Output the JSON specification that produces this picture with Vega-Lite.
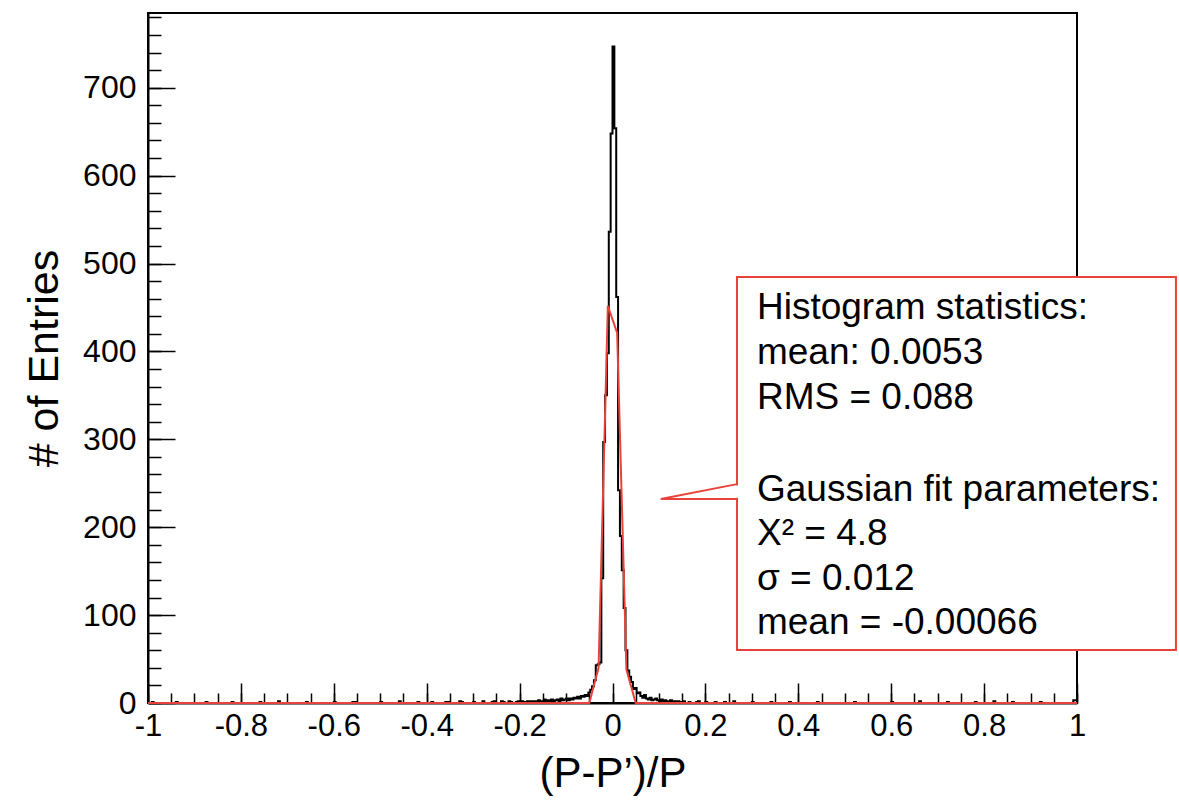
{
  "$schema": "https://vega.github.io/schema/vega-lite/v6.json",
  "width": 929,
  "height": 690,
  "autosize": {"type": "none"},
  "padding": {"left": 148, "top": 13, "right": 102, "bottom": 103},
  "background": "white",
  "config": {
    "view": {"stroke": "black", "strokeWidth": 2},
    "font": "Liberation Sans",
    "axis": {"grid": false}
  },
  "datasets": {
    "hist": [
      {"x": -1, "n": 0}, {"x": -0.992, "n": 1}, {"x": -0.988, "n": 0},
      {"x": -0.94, "n": 1}, {"x": -0.936, "n": 0}, {"x": -0.876, "n": 1}, {"x": -0.872, "n": 0},
      {"x": -0.82, "n": 1}, {"x": -0.816, "n": 0}, {"x": -0.76, "n": 1}, {"x": -0.756, "n": 0},
      {"x": -0.72, "n": 2}, {"x": -0.716, "n": 0}, {"x": -0.66, "n": 1}, {"x": -0.656, "n": 0},
      {"x": -0.6, "n": 1}, {"x": -0.596, "n": 0}, {"x": -0.56, "n": 1}, {"x": -0.552, "n": 0},
      {"x": -0.5, "n": 1}, {"x": -0.496, "n": 0}, {"x": -0.46, "n": 2}, {"x": -0.456, "n": 0},
      {"x": -0.42, "n": 1}, {"x": -0.416, "n": 0}, {"x": -0.39, "n": 1}, {"x": -0.386, "n": 0},
      {"x": -0.36, "n": 1}, {"x": -0.352, "n": 0}, {"x": -0.33, "n": 2}, {"x": -0.326, "n": 1},
      {"x": -0.322, "n": 0}, {"x": -0.3, "n": 1}, {"x": -0.296, "n": 0}, {"x": -0.28, "n": 2},
      {"x": -0.276, "n": 0}, {"x": -0.26, "n": 1}, {"x": -0.256, "n": 2}, {"x": -0.252, "n": 0},
      {"x": -0.24, "n": 2}, {"x": -0.236, "n": 1}, {"x": -0.232, "n": 0}, {"x": -0.224, "n": 2},
      {"x": -0.22, "n": 1}, {"x": -0.216, "n": 0}, {"x": -0.208, "n": 1}, {"x": -0.204, "n": 2},
      {"x": -0.2, "n": 1}, {"x": -0.196, "n": 2}, {"x": -0.192, "n": 1}, {"x": -0.188, "n": 0},
      {"x": -0.184, "n": 2}, {"x": -0.18, "n": 1}, {"x": -0.176, "n": 2}, {"x": -0.172, "n": 0},
      {"x": -0.168, "n": 2}, {"x": -0.164, "n": 1}, {"x": -0.16, "n": 3}, {"x": -0.156, "n": 1},
      {"x": -0.152, "n": 2}, {"x": -0.148, "n": 4}, {"x": -0.144, "n": 2}, {"x": -0.14, "n": 3},
      {"x": -0.136, "n": 1}, {"x": -0.132, "n": 4}, {"x": -0.128, "n": 2}, {"x": -0.124, "n": 3},
      {"x": -0.12, "n": 4}, {"x": -0.116, "n": 2}, {"x": -0.112, "n": 5}, {"x": -0.108, "n": 3},
      {"x": -0.104, "n": 4}, {"x": -0.1, "n": 5}, {"x": -0.096, "n": 3}, {"x": -0.092, "n": 5},
      {"x": -0.088, "n": 4}, {"x": -0.084, "n": 6}, {"x": -0.08, "n": 5}, {"x": -0.076, "n": 7},
      {"x": -0.072, "n": 5}, {"x": -0.068, "n": 8}, {"x": -0.064, "n": 7}, {"x": -0.06, "n": 9},
      {"x": -0.056, "n": 8}, {"x": -0.052, "n": 12}, {"x": -0.048, "n": 15}, {"x": -0.044, "n": 19},
      {"x": -0.04, "n": 26}, {"x": -0.036, "n": 43}, {"x": -0.032, "n": 44}, {"x": -0.028, "n": 46},
      {"x": -0.024, "n": 142}, {"x": -0.02, "n": 297}, {"x": -0.016, "n": 350}, {"x": -0.012, "n": 398},
      {"x": -0.008, "n": 536}, {"x": -0.004, "n": 648}, {"x": 0, "n": 747}, {"x": 0.004, "n": 654},
      {"x": 0.008, "n": 462}, {"x": 0.012, "n": 242}, {"x": 0.016, "n": 190}, {"x": 0.02, "n": 151},
      {"x": 0.024, "n": 108}, {"x": 0.028, "n": 60}, {"x": 0.032, "n": 37}, {"x": 0.036, "n": 30},
      {"x": 0.04, "n": 24}, {"x": 0.044, "n": 16}, {"x": 0.048, "n": 17}, {"x": 0.052, "n": 11},
      {"x": 0.056, "n": 12}, {"x": 0.06, "n": 8}, {"x": 0.064, "n": 6}, {"x": 0.068, "n": 9},
      {"x": 0.072, "n": 5}, {"x": 0.076, "n": 4}, {"x": 0.08, "n": 6}, {"x": 0.084, "n": 3},
      {"x": 0.088, "n": 4}, {"x": 0.092, "n": 5}, {"x": 0.096, "n": 3}, {"x": 0.1, "n": 2},
      {"x": 0.104, "n": 4}, {"x": 0.108, "n": 2}, {"x": 0.112, "n": 3}, {"x": 0.116, "n": 2},
      {"x": 0.12, "n": 1}, {"x": 0.124, "n": 3}, {"x": 0.128, "n": 1}, {"x": 0.132, "n": 2},
      {"x": 0.136, "n": 1}, {"x": 0.14, "n": 2}, {"x": 0.144, "n": 0}, {"x": 0.148, "n": 1},
      {"x": 0.152, "n": 2}, {"x": 0.156, "n": 0}, {"x": 0.164, "n": 1}, {"x": 0.168, "n": 0},
      {"x": 0.18, "n": 1}, {"x": 0.184, "n": 2}, {"x": 0.188, "n": 0}, {"x": 0.2, "n": 1},
      {"x": 0.204, "n": 0}, {"x": 0.22, "n": 1}, {"x": 0.224, "n": 0}, {"x": 0.24, "n": 1},
      {"x": 0.244, "n": 0}, {"x": 0.26, "n": 2}, {"x": 0.264, "n": 0}, {"x": 0.3, "n": 1},
      {"x": 0.304, "n": 0}, {"x": 0.34, "n": 1}, {"x": 0.344, "n": 0}, {"x": 0.38, "n": 1},
      {"x": 0.384, "n": 0}, {"x": 0.44, "n": 1}, {"x": 0.444, "n": 0}, {"x": 0.52, "n": 1},
      {"x": 0.524, "n": 0}, {"x": 0.6, "n": 1}, {"x": 0.604, "n": 0}, {"x": 0.66, "n": 2},
      {"x": 0.664, "n": 0}, {"x": 0.72, "n": 1}, {"x": 0.724, "n": 0}, {"x": 0.78, "n": 1},
      {"x": 0.784, "n": 0}, {"x": 0.82, "n": 2}, {"x": 0.824, "n": 0}, {"x": 0.86, "n": 1},
      {"x": 0.864, "n": 0}, {"x": 0.92, "n": 1}, {"x": 0.924, "n": 0}, {"x": 0.992, "n": 3},
      {"x": 1, "n": 0}
    ],
    "fit": [
      {"x": -1, "f": 0}, {"x": -0.05, "f": 0}, {"x": -0.03, "f": 40}, {"x": -0.01, "f": 452},
      {"x": 0.01, "f": 421}, {"x": 0.03, "f": 38}, {"x": 0.05, "f": 0}, {"x": 1, "f": 0}
    ],
    "one": [{}]
  },
  "resolve": {"axis": {"x": "independent", "y": "independent"}},
  "layer": [
    {
      "data": {"name": "hist"},
      "mark": {"type": "line", "interpolate": "step-after", "color": "black", "strokeWidth": 2},
      "encoding": {
        "x": {
          "field": "x", "type": "quantitative",
          "scale": {"domain": [-1, 1], "nice": false, "zero": false},
          "axis": {
            "orient": "bottom",
            "values": [-1, -0.8, -0.6, -0.4, -0.2, 0, 0.2, 0.4, 0.6, 0.8, 1],
            "labelExpr": "toString(round(datum.value*10)/10)",
            "tickSize": -20, "tickWidth": 1.5, "tickColor": "black",
            "domainColor": "black", "domainWidth": 2,
            "labelFont": "Liberation Sans", "labelFontSize": 31, "labelColor": "black",
            "labelPadding": 28, "labelFlush": false, "labelOverlap": false,
            "title": "(P-P’)/P", "titleFont": "Liberation Sans", "titleFontSize": 42,
            "titleFontWeight": "normal", "titleColor": "black", "titlePadding": 12
          }
        },
        "y": {
          "field": "n", "type": "quantitative",
          "scale": {"domain": [0, 785], "nice": false, "zero": true},
          "axis": {
            "orient": "left",
            "values": [0, 100, 200, 300, 400, 500, 600, 700],
            "tickSize": -27, "tickWidth": 1.5, "tickColor": "black",
            "domainColor": "black", "domainWidth": 2,
            "labelFont": "Liberation Sans", "labelFontSize": 32, "labelColor": "black",
            "labelPadding": 39, "labelFlush": false, "labelOverlap": false,
            "title": "# of Entries", "titleFont": "Liberation Sans", "titleFontSize": 43,
            "titleFontWeight": "normal", "titleColor": "black", "titlePadding": 16
          }
        }
      }
    },
    {
      "data": {"name": "fit"},
      "mark": {"type": "line", "color": "#e8433a", "strokeWidth": 2},
      "encoding": {
        "x": {
          "field": "x", "type": "quantitative",
          "axis": {
            "orient": "bottom",
            "values": [-1, -0.95, -0.9, -0.85, -0.8, -0.75, -0.7, -0.65, -0.6, -0.55, -0.5, -0.45, -0.4, -0.35, -0.3, -0.25, -0.2, -0.15, -0.1, -0.05, 0, 0.05, 0.1, 0.15, 0.2, 0.25, 0.3, 0.35, 0.4, 0.45, 0.5, 0.55, 0.6, 0.65, 0.7, 0.75, 0.8, 0.85, 0.9, 0.95, 1],
            "tickSize": -10, "tickWidth": 1.5, "tickColor": "black",
            "domain": false, "labels": false, "title": null
          }
        },
        "y": {
          "field": "f", "type": "quantitative",
          "axis": {
            "orient": "left",
            "values": [0, 20, 40, 60, 80, 100, 120, 140, 160, 180, 200, 220, 240, 260, 280, 300, 320, 340, 360, 380, 400, 420, 440, 460, 480, 500, 520, 540, 560, 580, 600, 620, 640, 660, 680, 700, 720, 740, 760, 780],
            "tickSize": -13, "tickWidth": 1.5, "tickColor": "black",
            "domain": false, "labels": false, "title": null
          }
        }
      }
    },
    {
      "data": {"name": "one"},
      "mark": {"type": "rect", "fill": "white", "stroke": "#e8433a", "strokeWidth": 2, "clip": false},
      "encoding": {
        "x": {"datum": 0.268, "type": "quantitative", "axis": null},
        "x2": {"datum": 1.213},
        "y": {"datum": 484.6, "type": "quantitative", "axis": null},
        "y2": {"datum": 60.3}
      }
    },
    {
      "data": {"name": "one"},
      "mark": {"type": "rule", "color": "white", "strokeWidth": 3, "clip": false},
      "encoding": {
        "x": {"datum": 0.268, "type": "quantitative", "axis": null},
        "y": {"datum": 247.5, "type": "quantitative", "axis": null},
        "y2": {"datum": 233.5}
      }
    },
    {
      "data": {"name": "one"},
      "mark": {"type": "rule", "color": "#e8433a", "strokeWidth": 2, "clip": false},
      "encoding": {
        "x": {"datum": 0.268, "type": "quantitative", "axis": null},
        "x2": {"datum": 0.104},
        "y": {"datum": 249, "type": "quantitative", "axis": null},
        "y2": {"datum": 232}
      }
    },
    {
      "data": {"name": "one"},
      "mark": {"type": "rule", "color": "#e8433a", "strokeWidth": 2, "clip": false},
      "encoding": {
        "x": {"datum": 0.104, "type": "quantitative", "axis": null},
        "x2": {"datum": 0.268},
        "y": {"datum": 232, "type": "quantitative", "axis": null},
        "y2": {"datum": 232}
      }
    },
    {
      "data": {"name": "one"},
      "mark": {
        "type": "text", "align": "left", "baseline": "middle", "font": "Liberation Sans",
        "fontSize": 37, "lineHeight": 44.7, "color": "black", "clip": false
      },
      "encoding": {
        "x": {"datum": 0.311, "type": "quantitative", "axis": null},
        "y": {"datum": 449, "type": "quantitative", "axis": null},
        "text": {"value": ["Histogram statistics:", "mean: 0.0053", "RMS = 0.088"]}
      }
    },
    {
      "data": {"name": "one"},
      "mark": {
        "type": "text", "align": "left", "baseline": "middle", "font": "Liberation Sans",
        "fontSize": 37, "lineHeight": 44.3, "color": "black", "clip": false
      },
      "encoding": {
        "x": {"datum": 0.311, "type": "quantitative", "axis": null},
        "y": {"datum": 242.3, "type": "quantitative", "axis": null},
        "text": {"value": ["Gaussian fit parameters:", "X² = 4.8", "σ = 0.012", "mean = -0.00066"]}
      }
    }
  ]
}
